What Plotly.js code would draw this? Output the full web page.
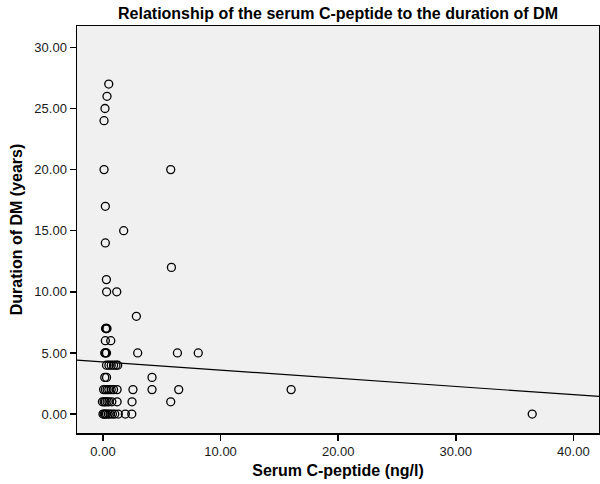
<!DOCTYPE html>
<html>
<head>
<meta charset="utf-8">
<script src="https://cdn.plot.ly/plotly-3.0.1.min.js"></script>
<style>html,body{margin:0;padding:0;background:#fff;}#chart{width:600px;height:484px;}</style>
</head>
<body>
<div id="chart"></div>
<script>
// Serum C-peptide (ng/l) values
const cPeptide = [
  0.49, 0.34, 0.17, 0.09, 0.09, 5.76, 0.20, 1.76, 0.20, 5.82, 0.29, 0.31, 1.17, 2.84,
  0.22, 0.28, 0.34,
  0.20, 0.66,
  0.15, 0.22, 0.30, 2.95, 6.33, 8.10,
  0.30, 0.50, 0.70, 0.90, 1.10, 1.25,
  0.15, 0.30, 4.17,
  0.05, 0.20, 0.35, 0.50, 0.70, 0.90, 1.20, 2.55, 4.17, 6.44, 16.00,
  -0.05, 0.10, 0.20, 0.35, 0.50, 0.75, 1.20, 2.47, 5.76,
  0.00, 0.10, 0.20, 0.30, 0.45, 0.60, 0.80, 1.00, 1.30, 1.90, 2.45, 36.50
];
// Duration of DM (years)
const durationDM = [
  27, 26, 25, 24, 20, 20, 17, 15, 14, 12, 11, 10, 10, 8,
  7, 7, 7,
  6, 6,
  5, 5, 5, 5, 5, 5,
  4, 4, 4, 4, 4, 4,
  3, 3, 3,
  2, 2, 2, 2, 2, 2, 2, 2, 2, 2, 2,
  1, 1, 1, 1, 1, 1, 1, 1, 1,
  0, 0, 0, 0, 0, 0, 0, 0, 0, 0, 0, 0
];
// Linear fit line (intercept, slope)
const fitIntercept = 4.26;
const fitSlope = -0.0668;
const xRange = [-2.21, 42.18];
const yRange = [-1.55, 31.75];
const xTicks = [0, 10, 20, 30, 40];
const yTicks = [0, 5, 10, 15, 20, 25, 30];

const fitX = xRange.slice();
const fitY = fitX.map(v => fitIntercept + fitSlope * v);

const font = 'Liberation Sans, Arial, sans-serif';

const traces = [
  {
    x: cPeptide, y: durationDM, type: 'scatter', mode: 'markers',
    marker: {symbol: 'circle-open', size: 8, color: '#000', line: {width: 1.3, color: '#000'}},
    hoverinfo: 'x+y', showlegend: false
  },
  {
    x: fitX, y: fitY, type: 'scatter', mode: 'lines',
    line: {color: '#000', width: 1.2}, showlegend: false, hoverinfo: 'skip'
  }
];

const axisCommon = {
  showgrid: false, zeroline: false, showline: true, mirror: true,
  linecolor: '#000', linewidth: 1.5, ticks: 'outside', ticklen: 6, tickwidth: 1.5,
  tickcolor: '#000', tickformat: '.2f',
  tickfont: {family: font, size: 13, color: '#1a1a1a'}
};

const layout = {
  width: 600, height: 484,
  margin: {l: 77, r: 1, t: 26, b: 51},
  paper_bgcolor: '#fff', plot_bgcolor: '#f0f0f0',
  title: {
    text: '<b>Relationship of the serum C-peptide to the duration of DM</b>',
    font: {family: font, size: 16, color: '#000'},
    x: 0.5, xref: 'paper', xanchor: 'center', y: 0.972, yref: 'container', yanchor: 'middle'
  },
  xaxis: Object.assign({}, axisCommon, {
    range: xRange, tickvals: xTicks,
    title: {text: '<b>Serum C-peptide (ng/l)</b>', font: {family: font, size: 16, color: '#000'}, standoff: 6}
  }),
  yaxis: Object.assign({}, axisCommon, {
    range: yRange, tickvals: yTicks,
    title: {text: '<b>Duration of DM (years)</b>', font: {family: font, size: 16, color: '#000'}, standoff: 8}
  }),
  showlegend: false
};

Plotly.newPlot('chart', traces, layout, {displayModeBar: false, staticPlot: true});
</script>
</body>
</html>
